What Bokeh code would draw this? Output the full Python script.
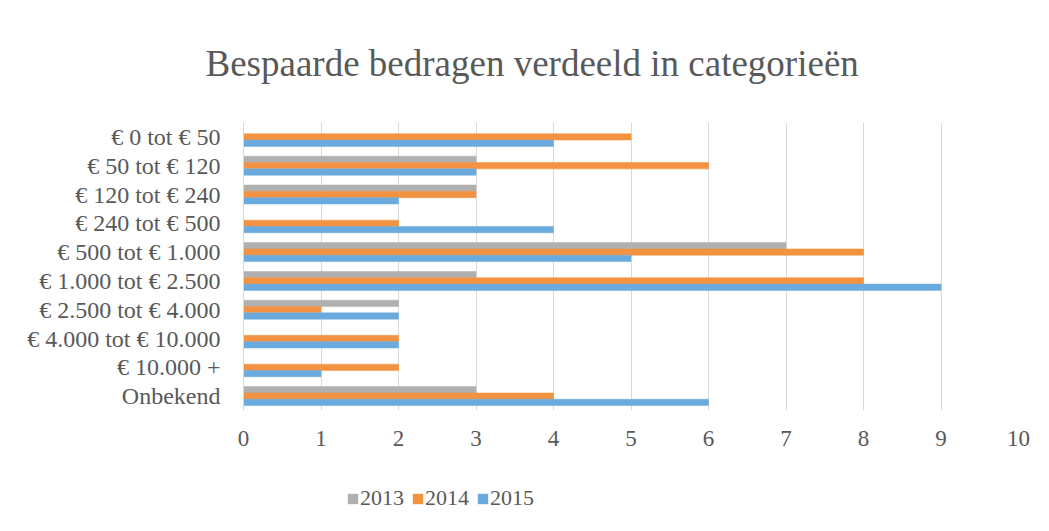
from bokeh.plotting import figure
from bokeh.models import FactorRange, Legend, LegendItem, ColumnDataSource, SingleIntervalTicker
from bokeh.layouts import column
from bokeh.transform import dodge
from bokeh.embed import file_html
from bokeh.resources import INLINE

categories = ["€ 0 tot € 50", "€ 50 tot € 120", "€ 120 tot € 240", "€ 240 tot € 500",
              "€ 500 tot € 1.000", "€ 1.000 tot € 2.500", "€ 2.500 tot € 4.000",
              "€ 4.000 tot € 10.000", "€ 10.000 +", "Onbekend"]
v2013 = [0, 3, 3, 0, 7, 3, 2, 0, 0, 3]
v2014 = [5, 6, 3, 2, 8, 8, 1, 2, 2, 4]
v2015 = [4, 3, 2, 4, 5, 9, 2, 2, 1, 6]
years = ["2013", "2014", "2015"]
colors = ["#b0b0b0", "#f39240", "#6aaadc"]

src = ColumnDataSource(dict(cat=categories, y2013=v2013, y2014=v2014, y2015=v2015))

FONT = "Liberation Serif"
TXT = "#595959"

p = figure(width=1033, height=460, output_backend="svg", toolbar_location=None,
           y_range=FactorRange(factors=list(reversed(categories)), range_padding=0),
           x_range=(0, 10),
           min_border_left=243, min_border_right=15, min_border_top=122, min_border_bottom=50)

offs = [0.22, 0.0, -0.22]
for yr, col, off in zip(years, colors, offs):
    p.hbar(y=dodge("cat", off, range=p.y_range), right="y" + yr, left=0, height=0.22,
           source=src, fill_color=col, line_color=col, line_width=0.5)

p.title.text = "Bespaarde bedragen verdeeld in categorieën"
p.title.align = "left"
p.title.offset = -38
p.title.text_font = FONT
p.title.text_font_size = "37px"
p.title.text_font_style = "normal"
p.title.text_color = TXT
p.title.standoff = 77

p.xaxis.ticker = SingleIntervalTicker(interval=1)
p.xaxis.axis_line_color = None
p.xaxis.major_tick_line_color = None
p.xaxis.minor_tick_line_color = None
p.xaxis.major_label_text_font = FONT
p.xaxis.major_label_text_font_size = "23px"
p.xaxis.major_label_text_color = TXT
p.xaxis.major_label_standoff = 14

p.yaxis.axis_line_color = "#d9d9d9"
p.yaxis.major_tick_line_color = None
p.yaxis.minor_tick_line_color = None
p.yaxis.major_label_text_font = FONT
p.yaxis.major_label_text_font_size = "24px"
p.yaxis.major_label_text_color = TXT
p.yaxis.major_label_standoff = 17

p.xgrid.grid_line_color = "#d9d9d9"
p.ygrid.grid_line_color = None
p.outline_line_color = None

# legend figure below (frames are aligned by the column layout)
lf = figure(width=1033, height=55, output_backend="svg", toolbar_location=None,
            x_range=(0, 1), y_range=(0, 1), min_border=0)
lf.axis.visible = False
lf.grid.visible = False
lf.outline_line_color = None
lrends = []
for col in colors:
    lrends.append(lf.hbar(y=[0.5], left=[0.5], right=[0.5], height=0,
                          fill_color=col, line_color=None))
legend = Legend(items=[LegendItem(label=yr, renderers=[r]) for yr, r in zip(years, lrends)],
                orientation="horizontal", location=(103, 4))
legend.label_text_font = FONT
legend.label_text_font_size = "22px"
legend.label_text_color = TXT
legend.glyph_width = 13
legend.glyph_height = 13
legend.spacing = 7
legend.label_standoff = 1
legend.border_line_color = None
legend.background_fill_alpha = 0
legend.padding = 0
legend.margin = 0
lf.add_layout(legend, "center")

layout = column(p, lf, spacing=0)
open("out.html", "w").write(file_html(layout, INLINE))
